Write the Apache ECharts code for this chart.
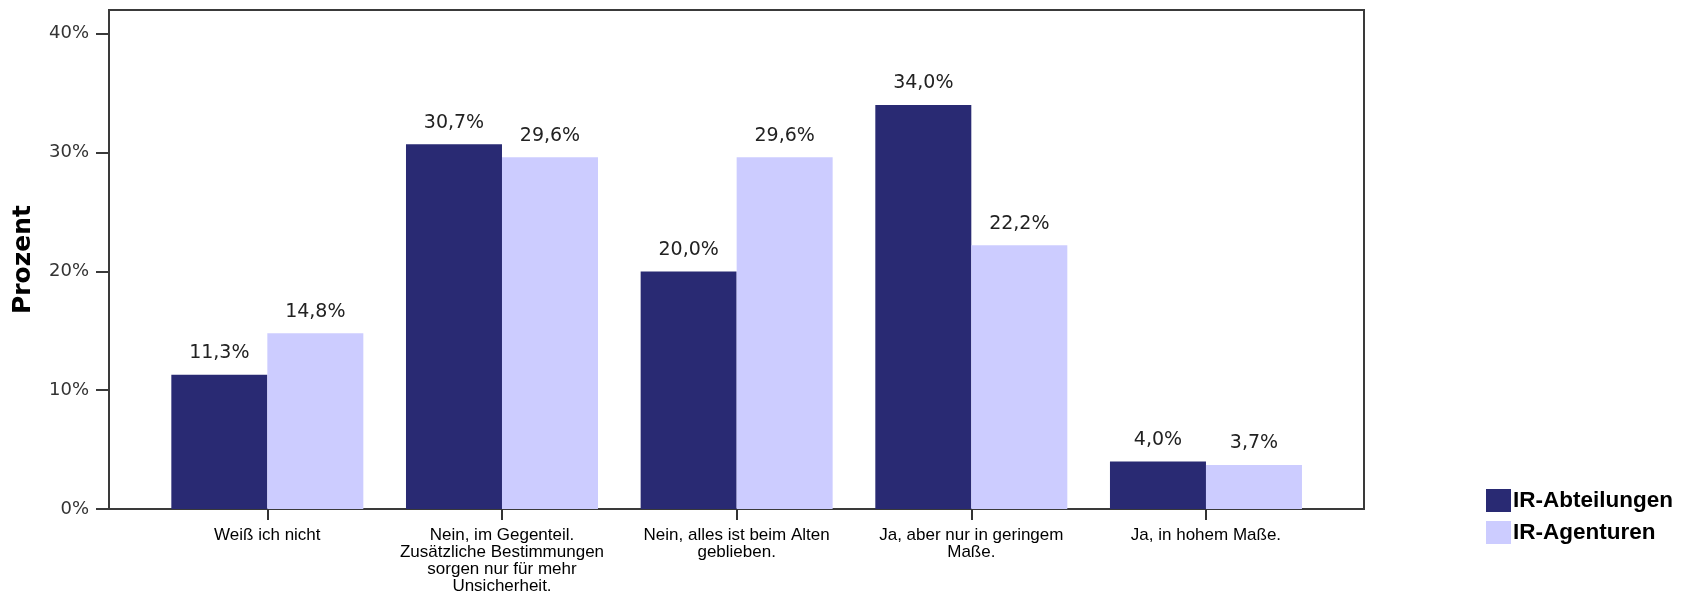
<!DOCTYPE html>
<html>
<head>
<meta charset="utf-8">
<script src="https://cdn.jsdelivr.net/npm/echarts@6/dist/echarts.min.js"></script>
<style>
html,body{margin:0;padding:0;background:#fff;}
#chart{width:1688px;height:597px;}
</style>
</head>
<body>
<div id="chart"></div>
<script>
const categories = [
  "Weiß ich nicht",
  "Nein, im Gegenteil.\nZusätzliche Bestimmungen\nsorgen nur für mehr\nUnsicherheit.",
  "Nein, alles ist beim Alten\ngeblieben.",
  "Ja, aber nur in geringem\nMaße.",
  "Ja, in hohem Maße."
];
const seriesNames = ["IR-Abteilungen", "IR-Agenturen"];
const abteilungen = [11.3, 30.7, 20.0, 34.0, 4.0];
const agenturen = [14.8, 29.6, 29.6, 22.2, 3.7];
const yTicks = [0, 10, 20, 30, 40];

const chart = echarts.init(document.getElementById('chart'));
const fmt = v => v.toFixed(1).replace('.', ',') + '%';
const labelStyle = {
  show: true, position: 'top', distance: 12,
  fontFamily: 'DejaVu Sans', fontSize: 19, color: '#222',
  formatter: p => fmt(p.value)
};
chart.setOption({
  animation: false,
  backgroundColor: '#fff',
  grid: [
    {left: 109, right: 324, top: 10, bottom: 88, show: true, borderColor: '#3a3a3a', borderWidth: 2, backgroundColor: 'transparent'},
    {left: 150, right: 364.7, top: 10, bottom: 88}
  ],
  legend: {
    orient: 'vertical', left: 1481, top: 484,
    itemWidth: 25, itemHeight: 23, itemGap: 9,
    icon: 'rect',
    textStyle: {fontFamily: 'Liberation Sans', fontWeight: 'bold', fontSize: 22.5, color: '#000', padding: [0,0,0,-3]},
    data: seriesNames
  },
  xAxis: [
    {gridIndex: 0, type: 'value', min: 0, max: 1, show: false},
    {gridIndex: 1, type: 'category', data: categories,
     axisLine: {show: false},
     axisTick: {show: true, alignWithLabel: true, length: 11, lineStyle: {color: '#333', width: 2}},
     axisLabel: {margin: 18, interval: 0, fontFamily: 'Liberation Sans', fontSize: 17, lineHeight: 17, color: '#000'}
    }
  ],
  yAxis: [
    {gridIndex: 0, type: 'value', min: 0, max: 42, interval: 10,
     name: 'Prozent', nameLocation: 'middle', nameRotate: 90, nameGap: 73,
     nameTextStyle: {fontFamily: 'DejaVu Sans', fontWeight: 'bold', fontSize: 25, color: '#000'},
     axisLine: {show: true, lineStyle: {color: '#3a3a3a', width: 2}},
     axisTick: {show: true, length: 13, customValues: yTicks, lineStyle: {color: '#3a3a3a', width: 2}},
     axisLabel: {margin: 20, customValues: yTicks, fontFamily: 'DejaVu Sans', fontSize: 18, color: '#333', formatter: v => v + '%'},
     splitLine: {show: false}
    },
    {gridIndex: 1, type: 'value', min: 0, max: 42, show: false, splitLine: {show: false}}
  ],
  series: [
    {name: seriesNames[0], type: 'bar', xAxisIndex: 1, yAxisIndex: 1, data: abteilungen,
     barWidth: 96, barGap: '0%', itemStyle: {color: '#292A73'}, label: labelStyle},
    {name: seriesNames[1], type: 'bar', xAxisIndex: 1, yAxisIndex: 1, data: agenturen,
     barWidth: 96, barGap: '0%', itemStyle: {color: '#CCCCFF'}, label: labelStyle}
  ]
});
</script>
</body>
</html>
